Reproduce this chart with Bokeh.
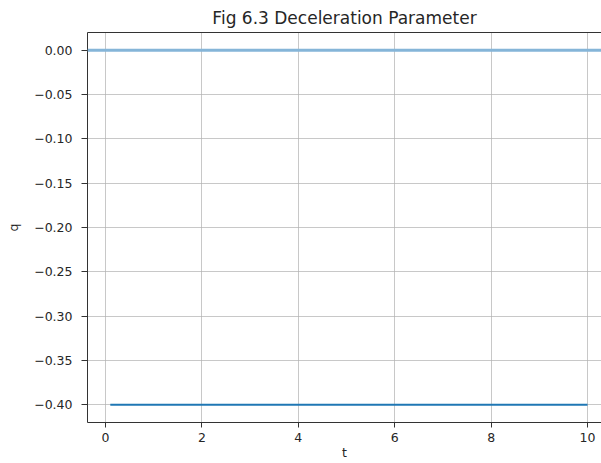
from bokeh.plotting import figure
from bokeh.models import Range1d, FixedTicker, CustomJSTickFormatter, Span, LinearAxis
from bokeh.embed import file_html
from bokeh.resources import INLINE

title = "Fig 6.3 Deceleration Parameter"
t = [0.1, 10.0]
q = [-0.4, -0.4]
zero_level = [0.0]
x_ticks = [0, 2, 4, 6, 8, 10]
y_ticks = [0.0, -0.05, -0.10, -0.15, -0.20, -0.25, -0.30, -0.35, -0.40]

FONT = "DejaVu Sans"
TXT = "#262626"

p = figure(width=601, height=463, output_backend="svg", toolbar_location=None,
           x_range=Range1d(-0.373, 10.29), y_range=Range1d(-0.42, 0.02),
           min_border_left=87, min_border_right=0, min_border_top=32, min_border_bottom=41)
p.title.text = title
p.title.align = "center"
p.title.text_font = FONT
p.title.text_font_size = "17px"
p.title.text_font_style = "normal"
p.title.text_color = TXT
p.title.standoff = 9
p.title.offset = 4

p.line(t, q, line_color="#1f77b4", line_width=1.8)
for z in zero_level:
    p.add_layout(Span(location=z, dimension="width", line_color="#85b5d8", line_width=3.2))

p.xaxis.ticker = FixedTicker(ticks=x_ticks)
p.yaxis.ticker = FixedTicker(ticks=y_ticks)
p.yaxis.formatter = CustomJSTickFormatter(code="return tick.toFixed(2).replace('-', '\u2212');")
p.xaxis.axis_label = "t"
p.yaxis.axis_label = "q"
for ax in (p.xaxis, p.yaxis):
    ax.axis_label_text_font = FONT
    ax.axis_label_text_font_size = "12.5px"
    ax.axis_label_text_font_style = "normal"
    ax.axis_label_text_color = TXT
    ax.major_label_text_font = FONT
    ax.major_label_text_font_size = "12.5px"
    ax.major_label_text_color = TXT
    ax.major_tick_in = 0
    ax.minor_tick_in = 0
    ax.minor_tick_out = 0
    ax.axis_line_color = "#333333"
    ax.major_tick_line_color = "#333333"
p.xaxis.major_tick_out = 5
p.xaxis.major_label_standoff = 5
p.xaxis.axis_label_standoff = 0
p.yaxis.major_tick_out = 6
p.yaxis.major_label_standoff = 9
p.yaxis.axis_label_standoff = 10

top = LinearAxis(ticker=FixedTicker(ticks=[]), major_label_text_font_size="0px",
                 major_tick_out=0, minor_tick_out=0, axis_line_color="#333333")
p.add_layout(top, "above")

p.xgrid.grid_line_color = "#b0b0b0"
p.ygrid.grid_line_color = "#b0b0b0"
p.xgrid.grid_line_alpha = 0.7
p.ygrid.grid_line_alpha = 0.7
p.outline_line_color = None
p.background_fill_color = "white"
p.border_fill_color = "white"

open("out.html", "w").write(file_html(p, INLINE))
